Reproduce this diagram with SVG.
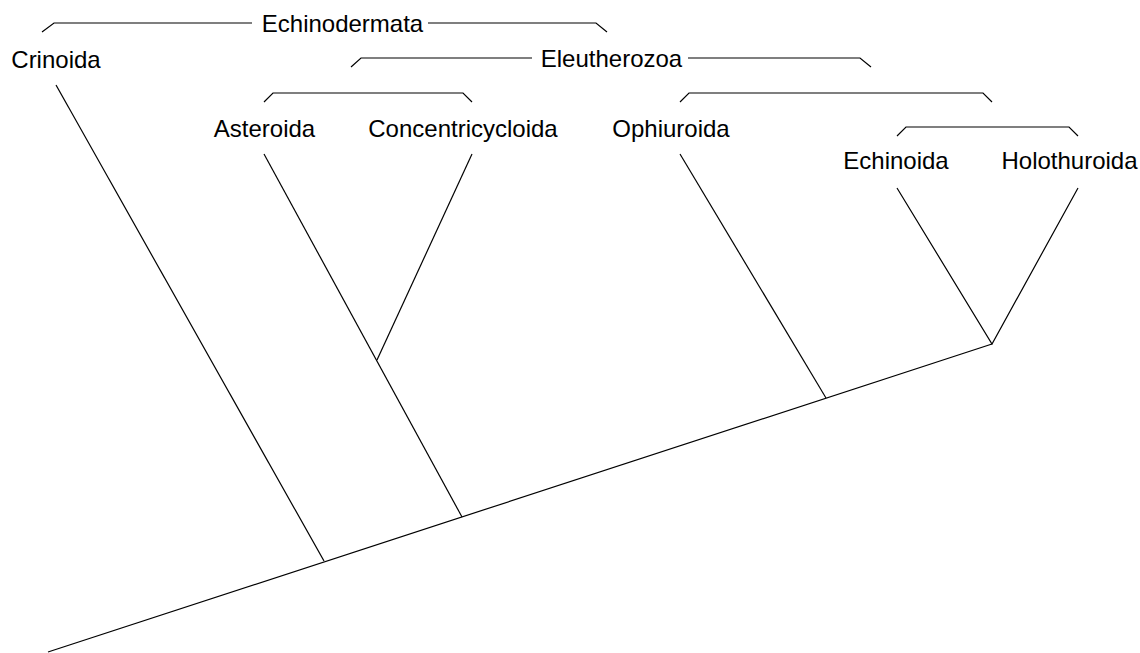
<svg xmlns="http://www.w3.org/2000/svg" width="1140" height="653" viewBox="0 0 1140 653">
<style>
.ln{fill:none;stroke:#000;stroke-width:1.2;stroke-linejoin:miter}
.lb{font-family:"Liberation Sans",Arial,sans-serif;font-size:24px;fill:#000;text-anchor:middle}
</style>
<rect width="1140" height="653" fill="#fff"/>
<g id="connectors">
<path class="ln" d="M48,652 L992,344"/>
<path class="ln" d="M56,85 L324,561"/>
<path class="ln" d="M264,154 L462,517"/>
<path class="ln" d="M472,154 L377,360"/>
<path class="ln" d="M680,154 L826,398"/>
<path class="ln" d="M897,188 L992,344 L1078,188"/>
</g>
<g id="brackets">
<path class="ln" d="M42,32 L54,23 L252,23"/>
<path class="ln" d="M428,23 L596,23 L607,32"/>
<path class="ln" d="M351,67 L361,58 L532,58"/>
<path class="ln" d="M688,58 L860,58 L871,67"/>
<path class="ln" d="M264,102 L273,93 L463,93 L472,102"/>
<path class="ln" d="M680,102 L689,93 L983,93 L992,102"/>
<path class="ln" d="M897,136 L906,127 L1069,127 L1078,136"/>
</g>
<g id="echinodermata"><text class="lb" x="342.5" y="32">Echinodermata</text></g>
<g id="eleutherozoa"><text class="lb" x="611.5" y="67">Eleutherozoa</text></g>
<g id="crinoida"><text class="lb" x="56" y="68">Crinoida</text></g>
<g id="asteroida"><text class="lb" x="264.5" y="137">Asteroida</text></g>
<g id="concentricycloida"><text class="lb" x="463" y="137">Concentricycloida</text></g>
<g id="ophiuroida"><text class="lb" x="671" y="137">Ophiuroida</text></g>
<g id="echinoida"><text class="lb" x="896" y="169">Echinoida</text></g>
<g id="holothuroida"><text class="lb" x="1069.5" y="169">Holothuroida</text></g>
</svg>
